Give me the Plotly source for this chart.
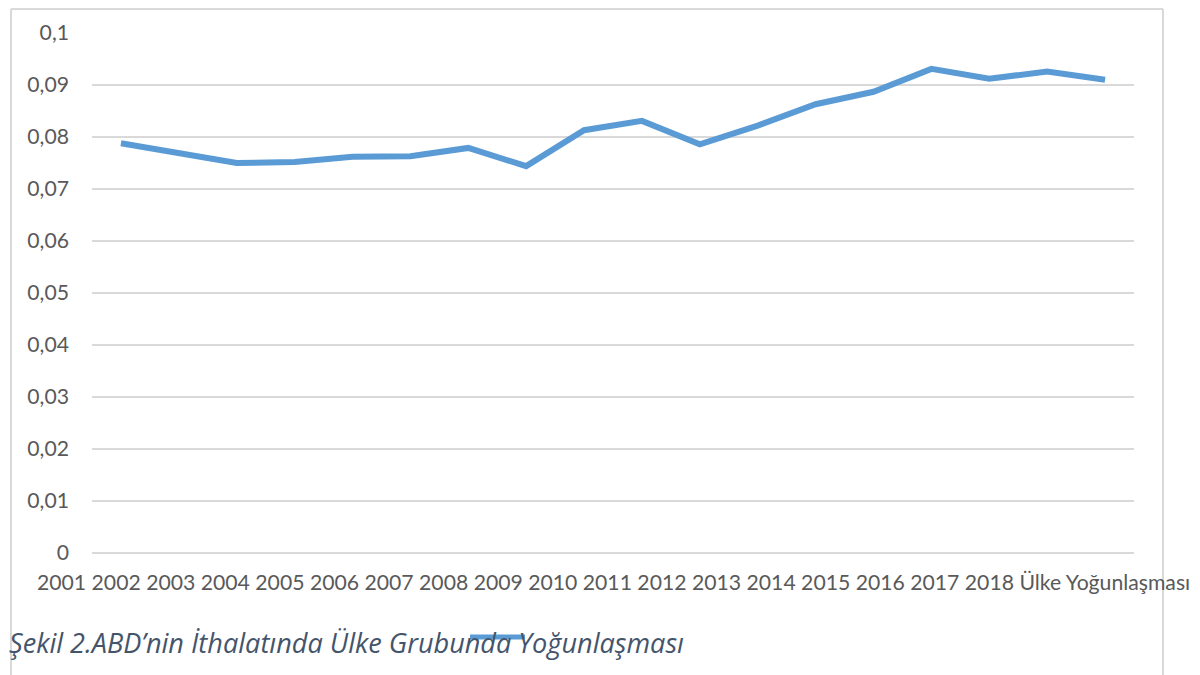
import plotly.graph_objects as go

years = [str(y) for y in range(2001, 2019)]
values = [0.0788, 0.0768, 0.0750, 0.0752, 0.0762, 0.0763, 0.0779, 0.0744, 0.0813,
          0.0831, 0.0786, 0.0822, 0.0863, 0.0887, 0.0931, 0.0912, 0.0926, 0.0910]
series_name = "Ülke Yoğunlaşması"
y_tickvals = [0, 0.01, 0.02, 0.03, 0.04, 0.05, 0.06, 0.07, 0.08, 0.09, 0.1]
y_ticktext = ["0", "0,01", "0,02", "0,03", "0,04", "0,05", "0,06", "0,07", "0,08", "0,09", "0,1"]
caption = "Şekil 2.ABD’nin İthalatında Ülke Grubunda Yoğunlaşması"

# page body has an 8px default margin; work in screen coordinates and shift
OFF = 8
W, H = 1200 - OFF, 675 - OFF
L, R, T, B = 92 - OFF, 1134 - OFF, 33 - OFF, 553 - OFF
pw, ph = R - L, B - T

def px(x):
    return (x - OFF - L) / pw

def py(y):
    return (B - (y - OFF)) / ph

FONT = "Lato"
GRAY = "#595959"
FS = 21.2
FRAME = "#D9D9D9"

fig = go.Figure()
fig.add_trace(go.Scatter(
    x=years, y=values, mode="lines", name=series_name,
    line=dict(color="#5B9BD5", width=6), showlegend=False,
))

fig.update_layout(
    width=W, height=H,
    margin=dict(l=L, r=W - R, t=T, b=H - B),
    paper_bgcolor="white", plot_bgcolor="white",
    font=dict(family=FONT, color=GRAY, size=FS),
    xaxis=dict(type="category", range=[-0.5, len(years) - 0.5],
               showticklabels=False, showgrid=False,
               zeroline=False, showline=False, ticks=""),
    yaxis=dict(range=[0, 0.1], tickvals=y_tickvals, ticktext=y_ticktext,
               showgrid=True, gridcolor="#D9D9D9", gridwidth=1.5,
               zeroline=True, zerolinecolor="#D9D9D9", zerolinewidth=1.5,
               showline=False, ticks="",
               ticklabelstandoff=22, tickfont=dict(size=FS, color=GRAY)),
)

# x-axis label row (rendered as one text run, as in the reference)
fig.add_annotation(
    text=" ".join(years) + " " + series_name,
    xref="paper", yref="paper", x=px(35), y=py(582),
    xanchor="left", yanchor="middle", showarrow=False,
    font=dict(family=FONT, size=FS, color=GRAY),
)

# caption
fig.add_annotation(
    text="<i>" + caption + "</i>",
    xref="paper", yref="paper", x=px(7), y=py(642),
    xanchor="left", yanchor="middle", showarrow=False,
    font=dict(family="Open Sans", size=27.1, color="#44546A"),
)

# chart frame (drawn as separate edges)
fig.add_shape(type="line", xref="paper", yref="paper",
              x0=px(11), x1=px(1163), y0=py(9), y1=py(9),
              line=dict(color=FRAME, width=2))
fig.add_shape(type="line", xref="paper", yref="paper",
              x0=px(11), x1=px(11), y0=py(9), y1=py(675),
              line=dict(color=FRAME, width=2))
fig.add_shape(type="line", xref="paper", yref="paper",
              x0=px(1163), x1=px(1163), y0=py(9), y1=py(675),
              line=dict(color=FRAME, width=2))

# legend key line
fig.add_shape(type="line", xref="paper", yref="paper",
              x0=px(470), x1=px(525), y0=py(637), y1=py(637),
              line=dict(color="#5B9BD5", width=5))

fig.write_html("out.html")
